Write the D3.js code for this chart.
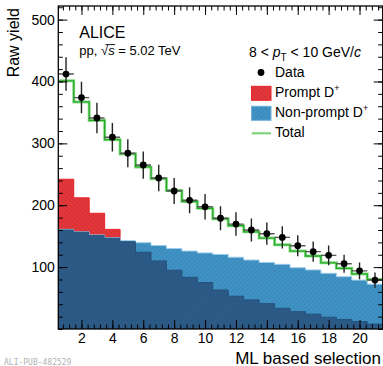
<!DOCTYPE html>
<html>
<head>
<meta charset="utf-8">
<script src="https://cdn.jsdelivr.net/npm/d3@7"></script>
<style>
  html, body { margin: 0; padding: 0; background: #fff; }
  svg { display: block; }
</style>
</head>
<body>
<script>
// ML selection working points (bin centres)
const bins = [1, 2, 3, 4, 5, 6, 7, 8, 9, 10, 11, 12, 13, 14, 15, 16, 17, 18, 19, 20, 21];
// Measured raw yield and its statistical uncertainty
const dataYield = [412, 374, 341, 310, 284, 265, 244, 223, 208, 197.5, 179, 169.5, 160, 154, 148, 134.5, 125, 119, 105.5, 94, 79];
const dataErr = [27, 25.5, 24.5, 23, 22.5, 22, 21.5, 21, 21, 20.5, 19.5, 19, 18.5, 18, 18, 17, 16.5, 16, 14.5, 13.5, 12.5];
// Fitted components
const promptYield = [242, 212, 187, 161, 141, 124, 110, 95, 83.5, 75, 63, 53, 47, 41, 33.5, 28, 24, 19, 15.5, 12, 8];
const nonPromptYield = [161, 157, 152, 147.5, 142.5, 139.5, 135, 130, 126, 123, 120.5, 116, 111.5, 107.5, 104.5, 99, 95.5, 90, 84.5, 79, 72.5];
const totalYield = [401, 367, 337, 306, 283, 262, 243, 224, 206, 195, 178, 167, 157, 147, 136, 126, 118, 107, 98, 89, 80];
// Axis tick labels
const xTicks = [2, 4, 6, 8, 10, 12, 14, 16, 18, 20];
const yTicks = [100, 200, 300, 400, 500];

const W = 383, H = 366;
const FONT = "'Liberation Sans', Arial, Helvetica, sans-serif";
const padL = 58.3, padR = 382.7, padT = 6, padB = 329;

const svg = d3.select("body").append("svg")
  .attr("width", W).attr("height", H)
  .style("font-family", FONT);

const x = d3.scaleLinear().domain([0.5, 21.5]).range([padL, padR]);
const y = d3.scaleLinear().domain([0, 522]).range([padB, padT]);

const defs = svg.append("defs");
defs.append("clipPath").attr("id", "plotClip")
  .append("rect").attr("x", padL).attr("y", padT)
  .attr("width", padR - padL).attr("height", padB - padT);

function hatch(id, bg, stroke, angle) {
  const p = defs.append("pattern").attr("id", id)
    .attr("patternUnits", "userSpaceOnUse")
    .attr("width", 3.2).attr("height", 3.2)
    .attr("patternTransform", `rotate(${angle})`);
  p.append("rect").attr("width", 3.2).attr("height", 3.2).attr("fill", bg);
  p.append("line").attr("x1", 0).attr("y1", 0).attr("x2", 0).attr("y2", 3.2)
    .attr("stroke", stroke).attr("stroke-width", 0.9);
}
hatch("hatchRed", "#e2383b", "#c8262b", -45);
hatch("hatchBlue", "#3a8cbf", "#57a4d2", 45);
hatch("hatchDark", "#2c5b88", "#264f79", 45);

// step histogram helpers: one point per bin low edge plus the final edge
function steps(values) {
  const pts = bins.map((b, i) => [b - 0.5, values[i]]);
  pts.push([bins[bins.length - 1] + 0.5, values[values.length - 1]]);
  return pts;
}
const area = d3.area()
  .x(d => x(d[0])).y0(y(0)).y1(d => y(d[1]))
  .curve(d3.curveStepAfter);
const stepLine = d3.line()
  .x(d => x(d[0])).y(d => y(d[1]))
  .curve(d3.curveStepAfter);

const plot = svg.append("g").attr("clip-path", "url(#plotClip)");

defs.append("clipPath").attr("id", "npClip")
  .append("path").attr("d", area(steps(nonPromptYield)));

// prompt D+
plot.append("path").attr("d", area(steps(promptYield)))
  .attr("fill", "url(#hatchRed)").attr("stroke", "#e8232a").attr("stroke-width", 1);
// non-prompt D+
plot.append("path").attr("d", area(steps(nonPromptYield)))
  .attr("fill", "url(#hatchBlue)").attr("stroke", "#9ccbe9").attr("stroke-width", 1);
// overlap of the two components
plot.append("g").attr("clip-path", "url(#npClip)")
  .append("path").attr("d", area(steps(promptYield)))
  .attr("fill", "url(#hatchDark)").attr("stroke", "#25507c").attr("stroke-width", 1);

// total fit
plot.append("path").attr("d", stepLine(steps(totalYield)))
  .attr("fill", "none").attr("stroke", "#8fda8f").attr("stroke-width", 3);
plot.append("path").attr("d", stepLine(steps(totalYield)))
  .attr("fill", "none").attr("stroke", "#23ab23").attr("stroke-width", 1.3);

// data points with error bars
const pts = plot.append("g");
bins.forEach((b, i) => {
  pts.append("line")
    .attr("x1", x(b - 0.5)).attr("x2", x(b + 0.5))
    .attr("y1", y(dataYield[i])).attr("y2", y(dataYield[i]))
    .attr("stroke", "#555").attr("stroke-width", 1.4);
  pts.append("line")
    .attr("x1", x(b)).attr("x2", x(b))
    .attr("y1", y(dataYield[i] - dataErr[i])).attr("y2", y(dataYield[i] + dataErr[i]))
    .attr("stroke", "#222").attr("stroke-width", 1.4);
  pts.append("circle")
    .attr("cx", x(b)).attr("cy", y(dataYield[i])).attr("r", 3.4)
    .attr("fill", "#000");
});

// axes with inward ticks on all four sides
const xMinor = d3.range(0.8, 21.5, 0.4);
const yMinor = d3.range(0, 522, 20);
function styleAxis(g) {
  g.select(".domain").remove();
  g.selectAll(".tick line").attr("stroke", "#000").attr("stroke-width", 1);
  g.selectAll("text").attr("fill", "#000").style("font-family", FONT);
}
svg.append("g").attr("transform", `translate(0,${padB})`)
  .call(d3.axisBottom(x).tickValues(xMinor).tickSize(-4.5).tickFormat(""))
  .call(styleAxis);
svg.append("g").attr("transform", `translate(0,${padB})`)
  .call(d3.axisBottom(x).tickValues(xTicks).tickSize(-9).tickPadding(4).tickFormat(d3.format("d")))
  .call(styleAxis)
  .selectAll("text").style("font-size", "14px");
svg.append("g").attr("transform", `translate(0,${padT})`)
  .call(d3.axisTop(x).tickValues(xMinor).tickSize(-4.5).tickFormat(""))
  .call(styleAxis);
svg.append("g").attr("transform", `translate(0,${padT})`)
  .call(d3.axisTop(x).tickValues(xTicks).tickSize(-9).tickFormat(""))
  .call(styleAxis);
svg.append("g").attr("transform", `translate(${padL},0)`)
  .call(d3.axisLeft(y).tickValues(yMinor).tickSize(-4.5).tickFormat(""))
  .call(styleAxis);
svg.append("g").attr("transform", `translate(${padL},0)`)
  .call(d3.axisLeft(y).tickValues(yTicks).tickSize(-9).tickPadding(3.5).tickFormat(d3.format("d")))
  .call(styleAxis)
  .selectAll("text").style("font-size", "14px");
svg.append("g").attr("transform", `translate(${padR},0)`)
  .call(d3.axisRight(y).tickValues(yMinor).tickSize(-4.5).tickFormat(""))
  .call(styleAxis);
svg.append("g").attr("transform", `translate(${padR},0)`)
  .call(d3.axisRight(y).tickValues(yTicks).tickSize(-9).tickFormat(""))
  .call(styleAxis);

svg.append("rect")
  .attr("x", padL).attr("y", padT).attr("width", padR - padL).attr("height", padB - padT)
  .attr("fill", "none").attr("stroke", "#000").attr("stroke-width", 1.3);

// axis titles
svg.append("text")
  .attr("transform", `translate(18.5,${padT + 2}) rotate(-90)`)
  .attr("text-anchor", "end").style("font-size", "16px")
  .text("Raw yield");
svg.append("text")
  .attr("x", 381).attr("y", 363.5)
  .attr("text-anchor", "end").style("font-size", "17px")
  .text("ML based selection");

// collaboration label
svg.append("text").attr("x", 79.3).attr("y", 37.7).style("font-size", "16px").text("ALICE");
const sys = svg.append("text").attr("x", 79.3).attr("y", 55).style("font-size", "13px");
sys.append("tspan").text("pp, \u221A");
sys.append("tspan").style("font-style", "italic").text("s");
sys.append("tspan").text(" = 5.02 TeV");
{
  const n = sys.node();
  const i0 = "pp, \u221A".length;
  const a = n.getStartPositionOfChar(i0 - 1);
  const b = n.getEndPositionOfChar(i0);
  svg.append("line")
    .attr("x1", a.x + 4.5).attr("x2", b.x + 0.5)
    .attr("y1", 44.6).attr("y2", 44.6)
    .attr("stroke", "#000").attr("stroke-width", 0.9);
}

// kinematic range
const kin = svg.append("text").attr("x", 249).attr("y", 56.7).style("font-size", "14px");
kin.append("tspan").text("8 < ");
kin.append("tspan").style("font-style", "italic").text("p");
kin.append("tspan").attr("dy", 4).style("font-size", "10px").text("T");
kin.append("tspan").attr("dy", -4).text(" < 10 GeV/");
kin.append("tspan").style("font-style", "italic").text("c");

// legend
const lg = svg.append("g");
lg.append("circle").attr("cx", 261).attr("cy", 72.5).attr("r", 3.4).attr("fill", "#000");
lg.append("text").attr("x", 275).attr("y", 77.3).style("font-size", "14px").text("Data");

lg.append("rect").attr("x", 251.5).attr("y", 86.3).attr("width", 19.5).attr("height", 14)
  .attr("fill", "url(#hatchRed)").attr("stroke", "#e8232a").attr("stroke-width", 1);
const tP = lg.append("text").attr("x", 275).attr("y", 96.9).style("font-size", "14px");
tP.append("tspan").text("Prompt D");
tP.append("tspan").attr("dy", -6).style("font-size", "9px").text("+");

lg.append("rect").attr("x", 251.5).attr("y", 106.3).attr("width", 19.5).attr("height", 14)
  .attr("fill", "url(#hatchBlue)").attr("stroke", "#6fb1dc").attr("stroke-width", 1);
const tN = lg.append("text").attr("x", 275).attr("y", 117.4).style("font-size", "14px");
tN.append("tspan").text("Non-prompt D");
tN.append("tspan").attr("dy", -6).style("font-size", "9px").text("+");

lg.append("line").attr("x1", 251.7).attr("x2", 271).attr("y1", 133.3).attr("y2", 133.3)
  .attr("stroke", "#7fd37f").attr("stroke-width", 2.2);
lg.append("text").attr("x", 275).attr("y", 137.4).style("font-size", "14px").text("Total");

// figure identifier
svg.append("text").attr("x", 4).attr("y", 364.5)
  .style("font-family", "'DejaVu Sans Mono', monospace").style("font-size", "8px")
  .attr("fill", "#b0b0b0").text("ALI-PUB-482529");
</script>
</body>
</html>
